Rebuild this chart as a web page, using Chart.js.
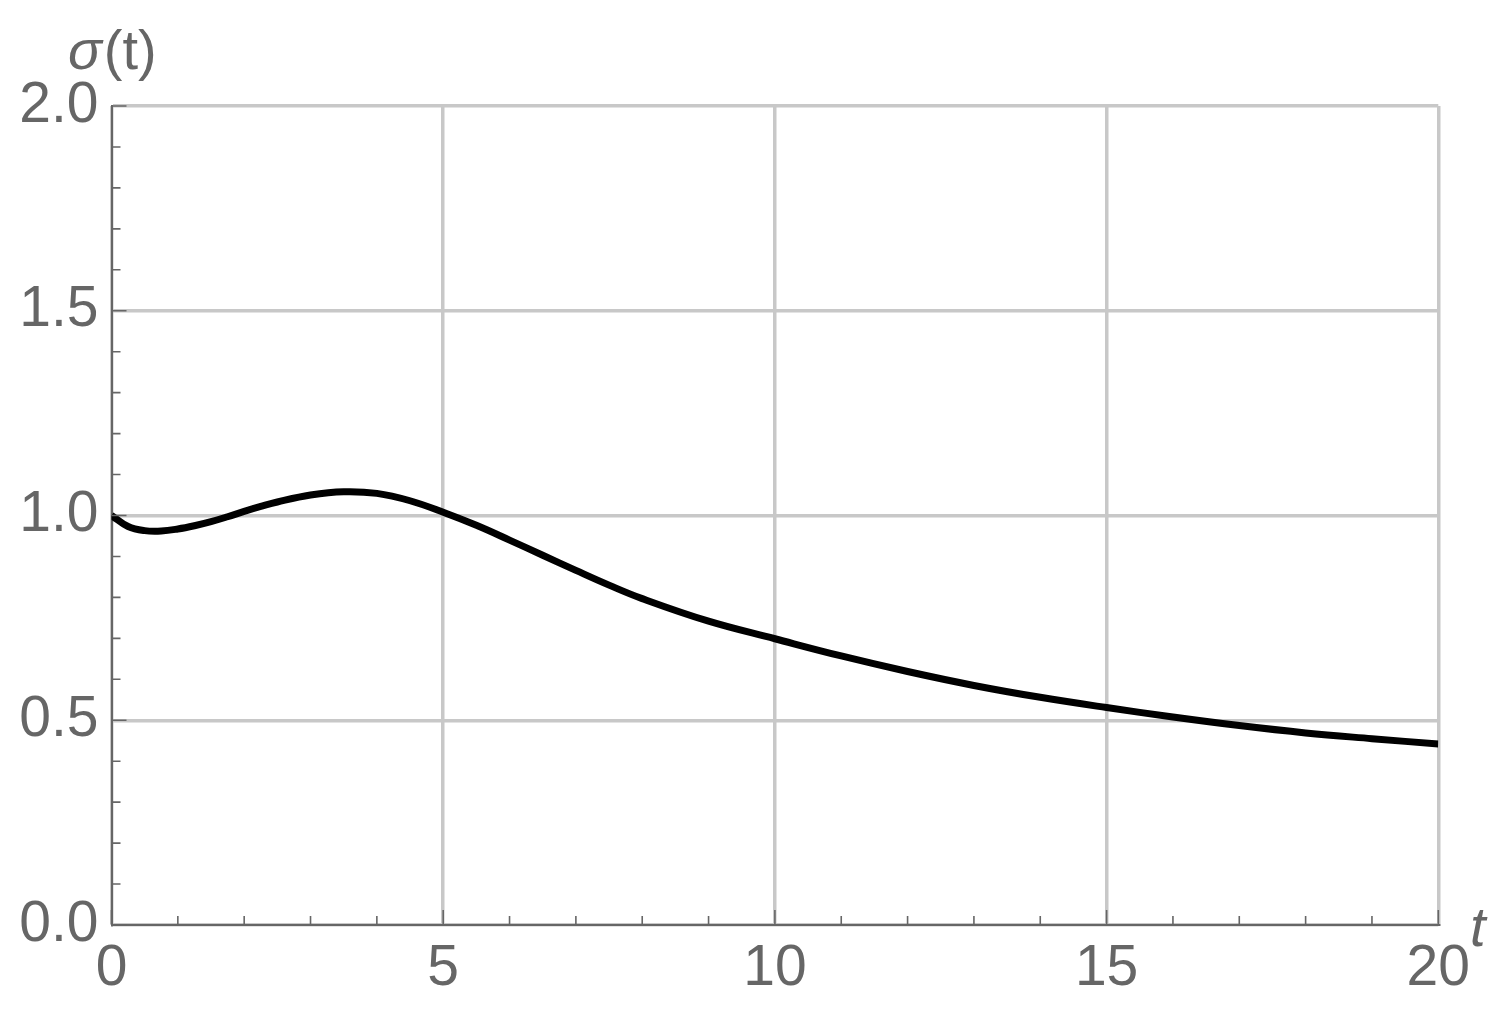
<!DOCTYPE html>
<html lang="en">
<head>
    <meta charset="UTF-8">
    <title>sigma(t)</title>
    <style>
        html, body { margin: 0; padding: 0; background: #fff; }
        .wrap { width: 1512px; height: 1032px; position: relative; }
    </style>
</head>
<body>
    <div class="wrap">
        <canvas id="sigmaChart"></canvas>
    </div>

    <script src="https://cdn.jsdelivr.net/npm/chart.js"></script>
    <script>
        // valores
        const tValues = [0, 0.25, 0.5, 0.75, 1, 1.25, 1.5, 1.75, 2, 2.25, 2.5, 3, 3.5, 4, 4.5, 5, 5.5, 6, 6.5, 7, 7.5, 8, 9, 10, 11, 12, 13, 14, 15, 16, 17, 18, 19, 20];
        const sigmaValues = [1.000, 0.973, 0.963, 0.962, 0.967, 0.975, 0.985, 0.997, 1.010, 1.022, 1.033, 1.050, 1.058, 1.054, 1.036, 1.008, 0.976, 0.940, 0.903, 0.866, 0.830, 0.797, 0.742, 0.699, 0.657, 0.619, 0.585, 0.556, 0.531, 0.508, 0.487, 0.469, 0.455, 0.442];

        const xMajorTicks = [0, 5, 10, 15, 20];
        const yMajorTicks = [0, 0.5, 1.0, 1.5, 2.0];
        const xAxisLabel = 't';
        const yAxisLabel = ['σ', '(t)'];

        const FONT = '"Liberation Sans", Arial, sans-serif';
        const GREY = '#666666';

        // ticks para dentro, estilo Mathematica, e rotulos dos eixos
        const axisDecor = {
            id: 'axisDecor',
            afterDraw(chart) {
                const { ctx, chartArea: a, scales: { x, y } } = chart;
                ctx.save();
                ctx.strokeStyle = GREY;
                ctx.lineWidth = 1.6;
                ctx.beginPath();
                for (let i = 0; i <= 20; i++) {
                    const px = x.getPixelForValue(i);
                    const len = xMajorTicks.includes(i) ? 15 : 9;
                    ctx.moveTo(px, a.bottom);
                    ctx.lineTo(px, a.bottom - len);
                }
                for (let i = 0; i <= 20; i++) {
                    const py = y.getPixelForValue(i / 10);
                    const len = (i % 5 === 0) ? 15 : 9;
                    ctx.moveTo(a.left, py);
                    ctx.lineTo(a.left + len, py);
                }
                ctx.stroke();

                ctx.fillStyle = GREY;
                ctx.textBaseline = 'alphabetic';
                ctx.textAlign = 'left';
                // sigma(t)
                ctx.font = 'italic 56px ' + FONT;
                ctx.fillText(yAxisLabel[0], 68, 69);
                const w = ctx.measureText(yAxisLabel[0]).width;
                ctx.font = '56px ' + FONT;
                ctx.fillText(yAxisLabel[1], 68 + w + 2, 69);
                // t
                ctx.font = 'italic 56px ' + FONT;
                ctx.fillText(xAxisLabel, 1470, 946);
                ctx.restore();
            }
        };

        const sigmaChart = new Chart(
            document.getElementById('sigmaChart'),
            {
                type: 'line',
                data: {
                    datasets: [{
                        label: 'σ(t)',
                        data: tValues.map((t, i) => ({ x: t, y: sigmaValues[i] })),
                        borderColor: '#000000',
                        borderWidth: 7,
                        pointRadius: 0,
                        fill: false,
                        tension: 0.4
                    }]
                },
                options: {
                    responsive: true,
                    maintainAspectRatio: false,
                    animation: false,
                    devicePixelRatio: 1,
                    layout: {
                        padding: { left: 0, top: 106, right: 73.7, bottom: 0 }
                    },
                    plugins: {
                        legend: { display: false },
                        tooltip: { enabled: false }
                    },
                    scales: {
                        x: {
                            type: 'linear',
                            min: 0,
                            max: 20,
                            afterFit(scale) { scale.height = 107; },
                            afterBuildTicks(scale) {
                                scale.ticks = xMajorTicks.map(v => ({ value: v }));
                            },
                            ticks: {
                                color: GREY,
                                font: { family: FONT, size: 57 },
                                padding: 10,
                                maxRotation: 0,
                                autoSkip: false,
                                callback: v => String(v)
                            },
                            grid: {
                                color: '#c8c8c8',
                                lineWidth: 3.5,
                                drawTicks: false
                            },
                            border: { color: GREY, width: 2 }
                        },
                        y: {
                            type: 'linear',
                            min: 0,
                            max: 2,
                            afterFit(scale) { scale.width = 111.5; },
                            afterBuildTicks(scale) {
                                scale.ticks = yMajorTicks.map(v => ({ value: v }));
                            },
                            ticks: {
                                color: GREY,
                                font: { family: FONT, size: 57 },
                                padding: 13,
                                autoSkip: false,
                                callback: v => v.toFixed(1)
                            },
                            grid: {
                                color: '#c8c8c8',
                                lineWidth: 3.5,
                                drawTicks: false
                            },
                            border: { color: GREY, width: 2 }
                        }
                    }
                },
                plugins: [axisDecor]
            }
        );
    </script>
</body>
</html>
